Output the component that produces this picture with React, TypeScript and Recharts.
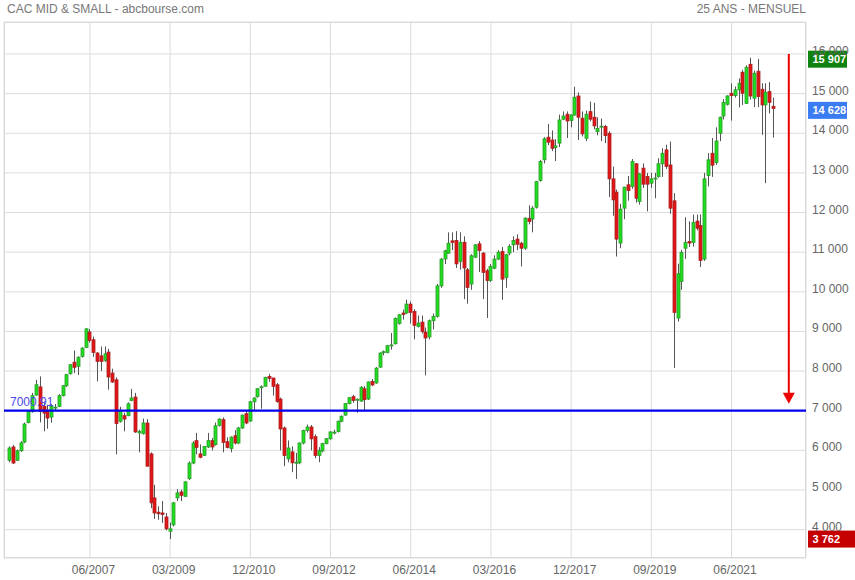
import React from 'react';
import { ComposedChart, Bar, XAxis, YAxis, CartesianGrid, ReferenceLine, ReferenceDot } from 'recharts';

// Monthly categories: 08/2005 .. 01/2023 (candles from 09/2005 to 05/2022)
const CATEGORY_START = 2005 * 12 + 7; // Aug 2005
const CATEGORY_COUNT = 210;
const FIRST_CANDLE_INDEX = 1;
const months: string[] = Array.from({ length: CATEGORY_COUNT }, (_, i) => {
  const t = CATEGORY_START + i;
  const yy = Math.floor(t / 12);
  const mm = (t % 12) + 1;
  return `${String(mm).padStart(2, '0')}/${yy}`;
});

const opens = [
  5750, 6085, 5750, 5990, 6210, 6700, 6975, 7395, 7600, 7110, 6985, 6840,
  7080, 7110, 7380, 7630, 7935, 8225, 8120, 8370, 8600, 8985, 8790, 8455,
  8385, 8270, 8480, 7950, 7780, 6730, 6875, 6875, 7260, 7345, 6440, 6420,
  6690, 5910, 4800, 4440, 4420, 4320, 3960, 4120, 4800, 4950, 4840, 5285,
  5680, 6245, 5910, 5875, 6085, 6245, 6145, 6630, 6775, 6220, 6045, 6370,
  6185, 6565, 6925, 6740, 7225, 7355, 7580, 7620, 7865, 7825, 7655, 7295,
  6565, 5785, 5960, 5690, 5685, 6185, 6500, 6590, 6345, 5870, 5985, 6170,
  6290, 6440, 6475, 6735, 6890, 7180, 7355, 7270, 7245, 7555, 7295, 7735,
  7700, 8100, 8470, 8470, 8650, 8690, 9200, 9465, 9465, 9690, 9505, 9125,
  9235, 8985, 8860, 9270, 9380, 10150, 10830, 10975, 11285, 11295, 10765, 11250,
  10555, 10195, 10875, 11210, 10975, 10530, 10285, 10595, 10825, 11015, 10360, 10975,
  11185, 11330, 11225, 11100, 11855, 11835, 12135, 12810, 13330, 13900, 13830, 13640,
  13750, 14355, 14480, 14320, 14460, 14940, 14380, 13875, 14545, 14405, 14040, 14165,
  14170, 14000, 12850, 12515, 11230, 12110, 12700, 12655, 13230, 12280, 13120, 12910,
  12740, 12865, 12910, 13230, 13580, 13200, 12295, 9340, 10260, 11100, 11270, 11245,
  11785, 11675, 10825, 12935, 13495, 13260, 14000, 14435, 14730, 15010, 14950, 15095,
  15540, 14755, 15740, 14885, 15565, 15110, 14715, 15050, 14680,
];

const highs = [
  6100, 6140, 6020, 6230, 6700, 7000, 7450, 7780, 7865, 7210, 7150, 7170,
  7170, 7420, 7650, 7930, 8180, 8520, 8370, 8600, 9080, 9060, 8870, 8480,
  8620, 8620, 8560, 8060, 7840, 7100, 6950, 7210, 7550, 7450, 6520, 6800,
  6790, 5950, 5130, 4590, 4720, 4420, 4180, 4700, 5020, 5010, 5220, 5720,
  6230, 6440, 6150, 6110, 6440, 6310, 6700, 6800, 6830, 6330, 6350, 6510,
  6590, 6900, 7000, 7250, 7340, 7570, 7640, 7860, 7930, 7830, 7700, 7330,
  6600, 6250, 6100, 5935, 6200, 6520, 6650, 6640, 6400, 6080, 6190, 6310,
  6480, 6520, 6750, 6880, 7190, 7340, 7400, 7310, 7620, 7620, 7740, 7800,
  8100, 8470, 8520, 8660, 8960, 9350, 9440, 9550, 9800, 9760, 9560, 9400,
  9400, 9100, 9300, 9450, 10200, 10850, 11060, 11500, 11500, 11530, 11500, 11400,
  10600, 10950, 11200, 11280, 11000, 10580, 10700, 10920, 11050, 11130, 10950, 11200,
  11400, 11450, 11260, 11880, 12180, 12160, 12800, 13330, 13900, 14235, 14070, 13850,
  14470, 14550, 14550, 14480, 15175, 15030, 14550, 14570, 14800, 14770, 14400, 14370,
  14210, 14050, 13160, 12580, 12220, 12650, 12920, 13350, 13250, 13000, 13240, 13000,
  13000, 13000, 13370, 13620, 13710, 13790, 12490, 10710, 11060, 11880, 11780, 11950,
  11950, 11950, 13000, 13500, 13880, 14150, 14420, 14860, 14960, 15260, 15180, 15380,
  15600, 15715, 15907, 15580, 15875, 15260, 15260, 15290, 14900,
];

const lows = [
  5700, 5660, 5730, 5960, 6180, 6680, 6950, 7380, 6705, 6480, 6545, 6700,
  7010, 7090, 7360, 7600, 7910, 7950, 7900, 8340, 8580, 8720, 8360, 7740,
  8000, 8230, 7530, 7700, 5900, 6700, 6480, 6860, 7240, 6440, 5950, 6400,
  5600, 4540, 4270, 4250, 4170, 3980, 3762, 4080, 4720, 4720, 4820, 5250,
  5650, 5900, 5800, 5860, 6060, 6000, 6120, 6600, 5950, 6050, 5950, 6150,
  6160, 6540, 6660, 6720, 7000, 7330, 7050, 7600, 7730, 7380, 7200, 6000,
  5600, 5700, 5450, 5280, 5650, 6150, 6450, 6000, 5800, 5700, 5950, 6150,
  6270, 6400, 6450, 6710, 6870, 7160, 7200, 6950, 7220, 6990, 7270, 7620,
  7680, 8080, 8400, 8450, 8540, 8670, 9170, 9300, 9440, 9200, 8800, 9100,
  8950, 7890, 8800, 9050, 9350, 10100, 10700, 10960, 11050, 10600, 10560, 9815,
  9700, 10050, 10850, 10500, 9815, 9340, 10250, 10570, 10800, 9800, 10100, 10920,
  11000, 11050, 10640, 11060, 11700, 11500, 12100, 12780, 13240, 13700, 13550, 13300,
  13650, 14330, 13880, 14150, 14440, 13830, 13920, 13800, 14300, 14100, 13950, 13800,
  13750, 12390, 11920, 10890, 11100, 11830, 12300, 12600, 12250, 12200, 12620, 12030,
  12620, 12360, 12880, 12900, 13100, 11970, 8080, 9250, 10050, 10830, 11130, 11140,
  11550, 10625, 10780, 12660, 12900, 13200, 13800, 14350, 14700, 14320, 14900, 14650,
  14715, 14740, 14850, 14660, 14660, 13960, 12740, 14500, 13890,
];

const closes = [
  6060, 5680, 5990, 6190, 6665, 6975, 7380, 7655, 6985, 6940, 6815, 7110,
  7090, 7380, 7630, 7910, 8160, 8095, 8350, 8580, 9065, 8775, 8470, 8245,
  8245, 8435, 7850, 7725, 6675, 7000, 6790, 7175, 7320, 6465, 6480, 6690,
  5600, 4675, 4420, 4400, 4380, 4020, 4020, 4675, 4925, 4865, 5205, 5680,
  6185, 6075, 5825, 6100, 6245, 6085, 6620, 6790, 6200, 6070, 6335, 6185,
  6565, 6890, 6690, 7225, 7320, 7555, 7605, 7840, 7815, 7615, 7235, 6540,
  5870, 6060, 5685, 5700, 6185, 6500, 6590, 6290, 5870, 6000, 6170, 6295,
  6465, 6460, 6735, 6860, 7180, 7330, 7260, 7290, 7590, 7280, 7725, 7650,
  8075, 8455, 8490, 8640, 8660, 9330, 9420, 9430, 9690, 9480, 9155, 9210,
  9000, 8835, 9270, 9380, 10150, 10825, 11035, 11225, 11245, 10705, 11250, 10600,
  10110, 10910, 11185, 11040, 10490, 10285, 10640, 10825, 11000, 10320, 10935, 11145,
  11295, 11200, 11100, 11855, 11775, 12110, 12780, 13285, 13860, 13775, 13620, 13680,
  14335, 14435, 14310, 14460, 14910, 14405, 13985, 14480, 14355, 14185, 14125, 14180,
  13940, 12850, 12320, 11330, 12085, 12640, 12555, 13285, 12360, 12975, 12715, 12715,
  12850, 12870, 13230, 13495, 13160, 12110, 9480, 10455, 10995, 11245, 11230, 11750,
  11605, 10790, 12850, 13330, 13195, 13805, 14405, 14775, 14940, 14950, 15095, 15260,
  15010, 15665, 14940, 15515, 14925, 14715, 15035, 14780, 14628,
];

const xTicks = ['06/2007', '03/2009', '12/2010', '09/2012', '06/2014', '03/2016', '12/2017', '09/2019', '06/2021'];
const yTicks = [4000, 5000, 6000, 7000, 8000, 9000, 10000, 11000, 12000, 13000, 14000, 15000, 16000];
const yDomain = [3284, 16807];

const supportLevel = 7000.91;
const supportLabel = '7000.91';
const maxValue = 15907;
const lastValue = 14628;
const minValue = 3762;
const arrowMonth = '09/2022';
const arrowTop = 16000;
const arrowTip = 7177;
const arrowBase = 7440;

const data = months.map((label, i) => {
  const k = i - FIRST_CANDLE_INDEX;
  if (k < 0 || k >= opens.length) return { label } as any;
  return { label, o: opens[k], h: highs[k], l: lows[k], c: closes[k] };
});

const FONT = 'Arial, "Liberation Sans", sans-serif';
const fmt = (v: number) => String(v).replace(/\B(?=(\d{3})+(?!\d))/g, ' ');

const Candle = (props: any) => {
  const { x, y, width, height, payload } = props;
  if (!payload || payload.h == null || !isFinite(y) || !isFinite(height)) return null;
  const { o, h, l, c } = payload;
  const top = Math.min(y, y + height);
  const bot = Math.max(y, y + height);
  const span = h - l;
  const pix = (v: number) => (span === 0 ? top : top + ((h - v) / span) * (bot - top));
  const cx = Math.floor(x + width / 2) + 0.5;
  const up = c >= o;
  const bTop = pix(Math.max(o, c));
  let bH = pix(Math.min(o, c)) - bTop;
  if (bH < 1) bH = 1;
  return (
    <g>
      <line x1={cx} x2={cx} y1={top} y2={bot} stroke="#555" strokeWidth={1} />
      <rect
        x={cx - 1.5}
        y={bTop}
        width={3}
        height={bH}
        fill={up ? '#1ee01e' : '#e41414'}
        stroke={up ? '#2c9a2c' : '#a82020'}
        strokeWidth={0.8}
      />
    </g>
  );
};

const XTick = (p: any) => (
  <text x={p.x + 3.5} y={p.y + 12} textAnchor="middle" dominantBaseline="central" fontSize={12} fill="#666" fontFamily={FONT}>
    {p.payload.value}
  </text>
);

const YTick = (p: any) => (
  <text x={p.x + 6} y={p.y - 3} textAnchor="start" dominantBaseline="central" fontSize={12} fill="#666" fontFamily={FONT}>
    {fmt(p.payload.value)}
  </text>
);

const badge = (text: string, fill: string, w: number, shift: number) => (props: any) => {
  const vb = props.viewBox || {};
  const bx = vb.x + vb.width + 2;
  const cy = vb.y + shift;
  return (
    <g>
      <rect x={bx} y={cy - 8.5} width={w} height={17} fill={fill} />
      <text x={bx + 4.5} y={cy} dominantBaseline="central" fontSize={11} fontWeight="bold" fill="#fff" fontFamily={FONT}>
        {text}
      </text>
    </g>
  );
};

const supportText = (props: any) => {
  const vb = props.viewBox || {};
  return (
    <text x={vb.x + 6} y={vb.y - 9} dominantBaseline="central" fontSize={12} fill="#4a4aee" fontFamily={FONT}>
      {supportLabel}
    </text>
  );
};

const ArrowHead = (p: any) => {
  const { cx, cy } = p;
  if (!isFinite(cx) || !isFinite(cy)) return null;
  const baseY = cy - (p.headLen || 11);
  return <path d={`M${cx - 6},${baseY} L${cx + 6},${baseY} L${cx},${cy} Z`} fill="#ee0000" />;
};

export default function App() {
  return (
    <div style={{ position: 'absolute', left: 0, top: 0, width: 855, height: 580, background: '#fff' }}>
      <div style={{ position: 'absolute', left: 7, top: 2, fontFamily: FONT, fontSize: 12, color: '#777', lineHeight: '14px' }}>
        CAC MID &amp; SMALL - abcbourse.com
      </div>
      <div style={{ position: 'absolute', right: 49, top: 2, fontFamily: FONT, fontSize: 12, color: '#777', lineHeight: '14px' }}>
        25 ANS - MENSUEL
      </div>
      <div
        style={{
          position: 'absolute',
          left: 4,
          top: 22,
          width: 802,
          height: 536,
          border: '1px solid #d8d8d8',
          boxSizing: 'border-box',
        }}
      />
      <div style={{ position: 'absolute', left: 0, top: 0 }}>
        <ComposedChart width={855} height={580} data={data} margin={{ top: 22, right: 0, bottom: 0, left: 4 }} barCategoryGap="10%">
          <CartesianGrid stroke="#dcdcdc" strokeWidth={1} />
          <XAxis
            dataKey="label"
            ticks={xTicks}
            interval={0}
            tickSize={0}
            tickMargin={0}
            axisLine={false}
            tickLine={false}
            height={22}
            tick={<XTick />}
          />
          <YAxis
            orientation="right"
            type="number"
            domain={yDomain}
            allowDataOverflow
            ticks={yTicks}
            interval={0}
            tickSize={0}
            tickMargin={0}
            axisLine={false}
            tickLine={false}
            width={49}
            tick={<YTick />}
          />
          <Bar
            dataKey={(d: any) => (d.h == null ? null : [d.l, d.h])}
            shape={<Candle />}
            isAnimationActive={false}
          />
          <ReferenceLine y={supportLevel} stroke="#0000ee" strokeWidth={2.2} label={supportText} />
          <ReferenceLine
            segment={[
              { x: arrowMonth, y: arrowTop },
              { x: arrowMonth, y: arrowBase },
            ]}
            stroke="#ee0000"
            strokeWidth={2}
          />
          <ReferenceDot x={arrowMonth} y={arrowTip} r={6} shape={(p: any) => <ArrowHead {...p} headLen={11} />} />
          <ReferenceLine y={maxValue} stroke="none" strokeWidth={0} label={badge(fmt(maxValue), '#0f820f', 39, 1.5)} />
          <ReferenceLine y={lastValue} stroke="none" strokeWidth={0} label={badge(fmt(lastValue), '#3b7cf2', 39, 2)} />
          <ReferenceLine y={minValue} stroke="none" strokeWidth={0} label={badge(fmt(minValue), '#c40000', 49, 0)} />
        </ComposedChart>
      </div>
    </div>
  );
}
